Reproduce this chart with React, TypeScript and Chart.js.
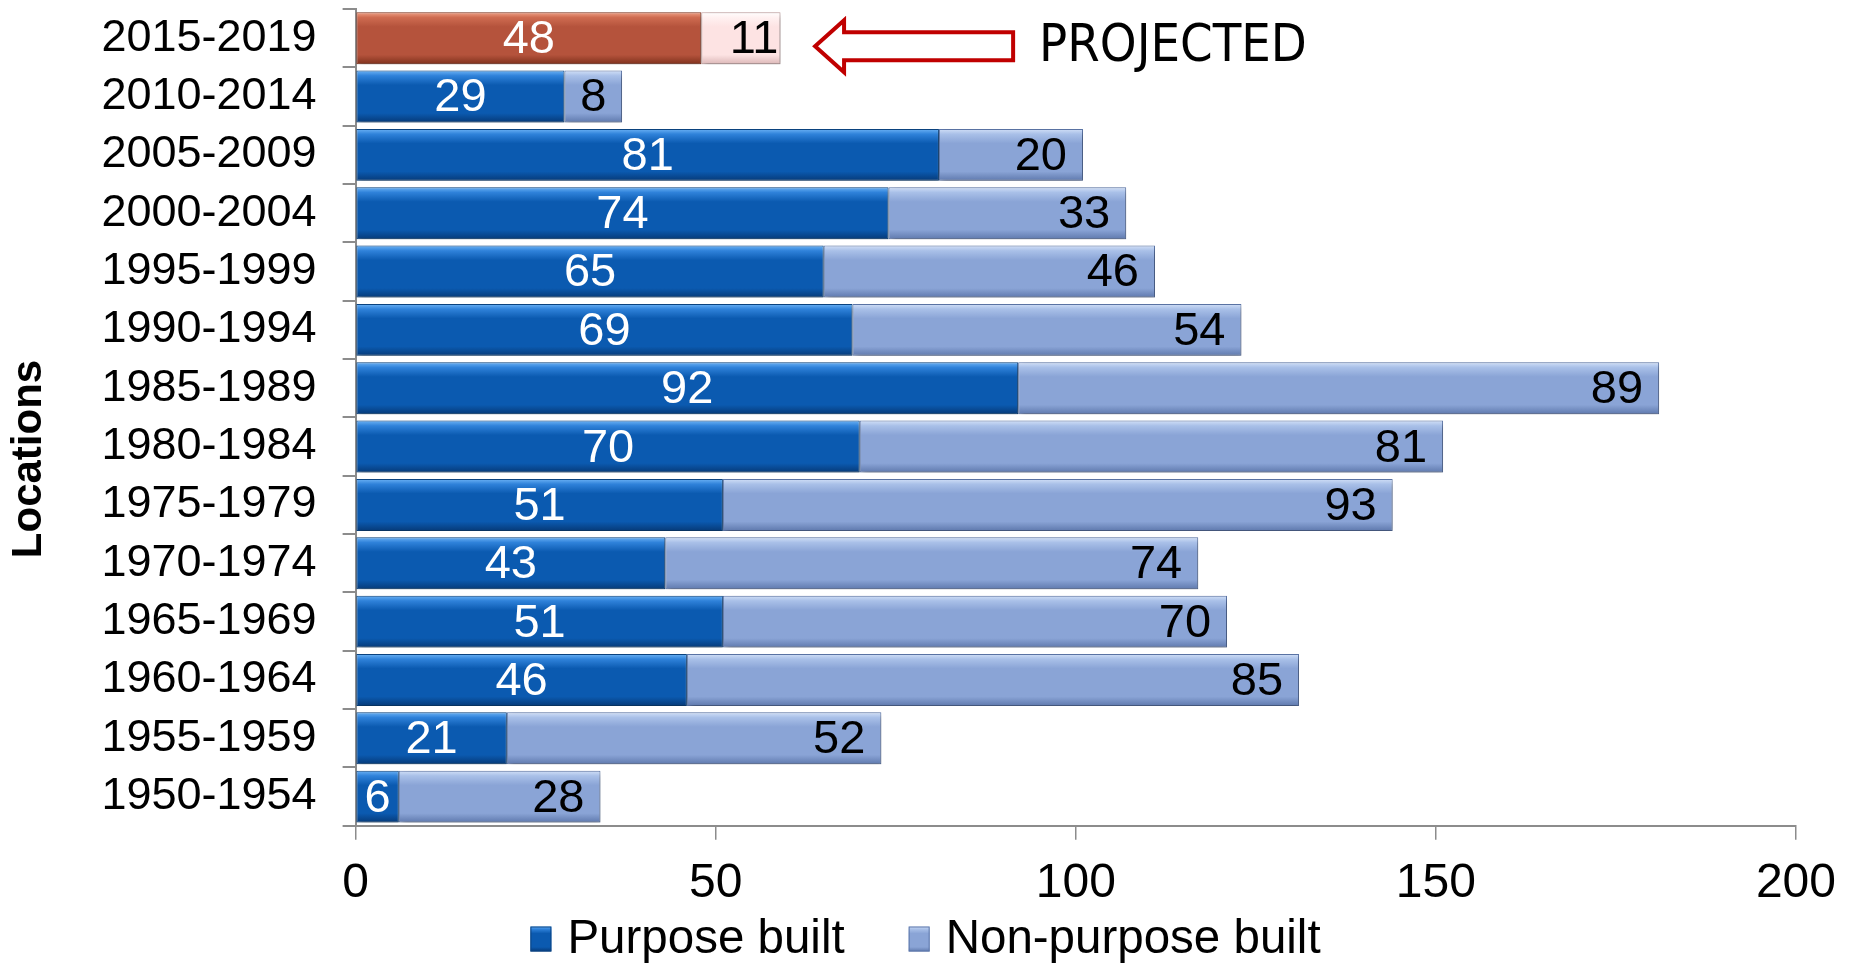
import React, { useEffect, useRef } from "react";
import { Chart, registerables } from "chart.js";

Chart.register(...registerables);

// ---------- data ----------
const periods = [
  "2015-2019", "2010-2014", "2005-2009", "2000-2004", "1995-1999",
  "1990-1994", "1985-1989", "1980-1984", "1975-1979", "1970-1974",
  "1965-1969", "1960-1964", "1955-1959", "1950-1954",
];
const purposeBuilt = [48, 29, 81, 74, 65, 69, 92, 70, 51, 43, 51, 46, 21, 6];
const nonPurposeBuilt = [11, 8, 20, 33, 46, 54, 89, 81, 93, 74, 70, 85, 52, 28];
const projectedIndex = 0;
const xTickValues = [0, 50, 100, 150, 200];
const seriesNames = ["Purpose built", "Non-purpose built"];
const axisTitle = "Locations";
const annotationText = "PROJECTED";

// ---------- styles ----------
const FONT = "'Liberation Sans', Arial, sans-serif";
const BAR_PCT = 0.89;
const AXIS_GRAY = "#8c8c8c";

const GRAD = {
  purpose: ["#6db3f5", "#2f82da", "#0b5ab0", "#063a78"],
  nonPurpose: ["#d2e0f7", "#a9c0e8", "#8aa4d6", "#5f79ad"],
  projPurpose: ["#f0a288", "#cf6c51", "#b5533c", "#80321d"],
  projNon: ["#ffffff", "#fff1f1", "#fde3e3", "#dcb8b8"],
};
const BORDER = {
  purpose: "#0a4584",
  nonPurpose: "#5d77aa",
  projPurpose: "#86361f",
  projNon: "#c8a5a5",
};

function makeGradient(chart: any, top: number, bottom: number, stops: string[]) {
  if (!isFinite(top) || !isFinite(bottom) || top === bottom) return stops[2];
  const g = chart.ctx.createLinearGradient(0, top, 0, bottom);
  g.addColorStop(0, stops[0]);
  g.addColorStop(0.1, stops[1]);
  g.addColorStop(0.28, stops[2]);
  g.addColorStop(0.82, stops[2]);
  g.addColorStop(1, stops[3]);
  return g;
}

function barFill(normal: string[], projected: string[]) {
  return (ctx: any) => {
    const stops = ctx.dataIndex === projectedIndex ? projected : normal;
    const chart = ctx.chart;
    const ys = chart.scales && chart.scales.y;
    if (!ys || ctx.type !== "data") return stops[2];
    const c = ys.getPixelForValue(ctx.dataIndex);
    let step = Math.abs(ys.getPixelForValue(1) - ys.getPixelForValue(0));
    if (!isFinite(step) || step <= 0) step = 58;
    const h = (step * BAR_PCT) / 2;
    return makeGradient(chart, c - h, c + h, stops);
  };
}

const shadowPlugin = {
  id: "barShadow",
  beforeDatasetsDraw(chart: any) {
    const c = chart.ctx;
    c.save();
    c.shadowColor = "rgba(0,0,0,0.35)";
    c.shadowBlur = 6;
    c.shadowOffsetX = 2;
    c.shadowOffsetY = 3;
  },
  afterDatasetsDraw(chart: any) {
    chart.ctx.restore();
  },
};

const LABEL_PAD = 16;
const valueLabelPlugin = {
  id: "valueLabels",
  afterDatasetsDraw(chart: any) {
    const ctx = chart.ctx;
    ctx.save();
    ctx.font = `47px ${FONT}`;
    ctx.textBaseline = "middle";
    chart.data.datasets.forEach((ds: any, di: number) => {
      const meta = chart.getDatasetMeta(di);
      meta.data.forEach((bar: any, i: number) => {
        const v = ds.data[i];
        const p = bar.getProps(["x", "base", "y"], true);
        const start = Math.min(p.x, p.base);
        const end = Math.max(p.x, p.base);
        const width = end - start;
        const text = String(v);
        const w = ctx.measureText(text).width;
        let tx: number;
        if (di === 0 || width < w + 2 * LABEL_PAD) {
          ctx.textAlign = "center";
          tx = (start + end) / 2;
          if (di === 1 && w > width / 2 && width > w + 4) {
            ctx.textAlign = "right";
            tx = end - 2;
          }
        } else {
          ctx.textAlign = "right";
          tx = end - LABEL_PAD;
        }
        ctx.fillStyle = di === 0 ? "#ffffff" : "#000000";
        ctx.fillText(text, tx, p.y + 2);
      });
    });
    ctx.restore();
  },
};

const arrowPlugin = {
  id: "projectedArrow",
  afterDraw(chart: any) {
    const ctx = chart.ctx;
    const xs = chart.scales.x;
    const ys = chart.scales.y;
    const total = purposeBuilt[projectedIndex] + nonPurposeBuilt[projectedIndex];
    const tip = xs.getPixelForValue(total + 4.8);
    const tail = xs.getPixelForValue(total + 32.3);
    const cy = ys.getPixelForValue(projectedIndex) + 8;
    const headLen = 29, headH = 26, shaftH = 14;
    ctx.save();
    ctx.beginPath();
    ctx.moveTo(tip, cy);
    ctx.lineTo(tip + headLen, cy - headH);
    ctx.lineTo(tip + headLen, cy - shaftH);
    ctx.lineTo(tail, cy - shaftH);
    ctx.lineTo(tail, cy + shaftH);
    ctx.lineTo(tip + headLen, cy + shaftH);
    ctx.lineTo(tip + headLen, cy + headH);
    ctx.closePath();
    ctx.fillStyle = "#ffffff";
    ctx.fill();
    ctx.lineWidth = 4;
    ctx.lineJoin = "miter";
    ctx.strokeStyle = "#c00000";
    ctx.stroke();
    ctx.font = "52px 'DejaVu Sans Condensed', 'DejaVu Sans', sans-serif";
    ctx.fillStyle = "#000000";
    ctx.textAlign = "left";
    ctx.textBaseline = "alphabetic";
    ctx.fillText(annotationText, tail + 26, cy + 15);
    ctx.restore();
  },
};

// y-axis title, drawn in the space reserved by layout.padding.left
const axisTitlePlugin = {
  id: "yAxisTitle",
  afterDraw(chart: any) {
    const ctx = chart.ctx;
    ctx.save();
    ctx.translate(29, 459);
    ctx.rotate(-Math.PI / 2);
    ctx.font = `bold 42px ${FONT}`;
    ctx.fillStyle = "#000000";
    ctx.textAlign = "center";
    ctx.textBaseline = "middle";
    ctx.fillText(axisTitle, 0, 0);
    ctx.restore();
  },
};

const legendPlugin = {
  id: "bottomLegend",
  afterDraw(chart: any) {
    const ctx = chart.ctx;
    const boxW = 21, boxH = 25, boxGap = 16, itemGap = 64;
    const cy = chart.height - 24;
    ctx.save();
    ctx.font = `47.5px ${FONT}`;
    const widths = seriesNames.map((n) => ctx.measureText(n).width);
    const total = widths.reduce((a, w) => a + boxW + boxGap + w, 0) + itemGap * (seriesNames.length - 1);
    let x = chart.width / 2 - total / 2;
    const fills = [GRAD.purpose, GRAD.nonPurpose];
    const borders = [BORDER.purpose, BORDER.nonPurpose];
    seriesNames.forEach((name, i) => {
      const top = cy - boxH / 2;
      ctx.fillStyle = makeGradient(chart, top, top + boxH, fills[i]);
      ctx.fillRect(x, top, boxW, boxH);
      ctx.strokeStyle = borders[i];
      ctx.lineWidth = 1;
      ctx.strokeRect(x + 0.5, top + 0.5, boxW - 1, boxH - 1);
      ctx.fillStyle = "#000000";
      ctx.textAlign = "left";
      ctx.textBaseline = "middle";
      ctx.fillText(name, x + boxW + boxGap, cy + 1);
      x += boxW + boxGap + widths[i] + itemGap;
    });
    ctx.restore();
  },
};

export default function App() {
  const canvasRef = useRef<HTMLCanvasElement | null>(null);

  useEffect(() => {
    if (!canvasRef.current) return;
    const chart = new Chart(canvasRef.current, {
      type: "bar",
      data: {
        labels: periods,
        datasets: [
          {
            label: seriesNames[0],
            data: purposeBuilt,
            backgroundColor: barFill(GRAD.purpose, GRAD.projPurpose),
            borderColor: (c: any) => (c.dataIndex === projectedIndex ? BORDER.projPurpose : BORDER.purpose),
            borderWidth: 1,
            borderSkipped: false,
            barPercentage: BAR_PCT,
            categoryPercentage: 1,
          },
          {
            label: seriesNames[1],
            data: nonPurposeBuilt,
            backgroundColor: barFill(GRAD.nonPurpose, GRAD.projNon),
            borderColor: (c: any) => (c.dataIndex === projectedIndex ? BORDER.projNon : BORDER.nonPurpose),
            borderWidth: 1,
            borderSkipped: false,
            barPercentage: BAR_PCT,
            categoryPercentage: 1,
          },
        ],
      },
      options: {
        indexAxis: "y",
        responsive: true,
        maintainAspectRatio: false,
        animation: false,
        layout: { padding: { top: 9, right: 55, bottom: 35.6, left: 75.4 } },
        plugins: {
          legend: { display: false },
          tooltip: { enabled: false },
        },
        scales: {
          x: {
            stacked: true,
            min: 0,
            max: 200,
            afterBuildTicks: (scale: any) => {
              scale.ticks = xTickValues.map((v) => ({ value: v }));
            },
            ticks: { font: { family: FONT, size: 48 }, color: "#000", padding: 15 },
            grid: { drawOnChartArea: false, tickLength: 14, color: AXIS_GRAY, tickColor: AXIS_GRAY, lineWidth: 1.5 },
            border: { color: AXIS_GRAY, width: 2 },
          },
          y: {
            stacked: true,
            afterFit: (scale: any) => {
              scale.paddingTop = 0;
              scale.paddingBottom = 0;
            },
            ticks: { font: { family: FONT, size: 45 }, color: "#000", padding: 26, autoSkip: false },
            grid: { drawOnChartArea: false, tickLength: 13, color: AXIS_GRAY, tickColor: AXIS_GRAY, lineWidth: 2, offset: true },
            border: { color: AXIS_GRAY, width: 2 },
          },
        },
      },
      plugins: [shadowPlugin, valueLabelPlugin, arrowPlugin, axisTitlePlugin, legendPlugin],
    } as any);
    return () => chart.destroy();
  }, []);

  return (
    <div style={{ position: "fixed", left: 0, top: 0, width: "1851px", height: "963px", background: "#fff" }}>
      <canvas ref={canvasRef} />
    </div>
  );
}
